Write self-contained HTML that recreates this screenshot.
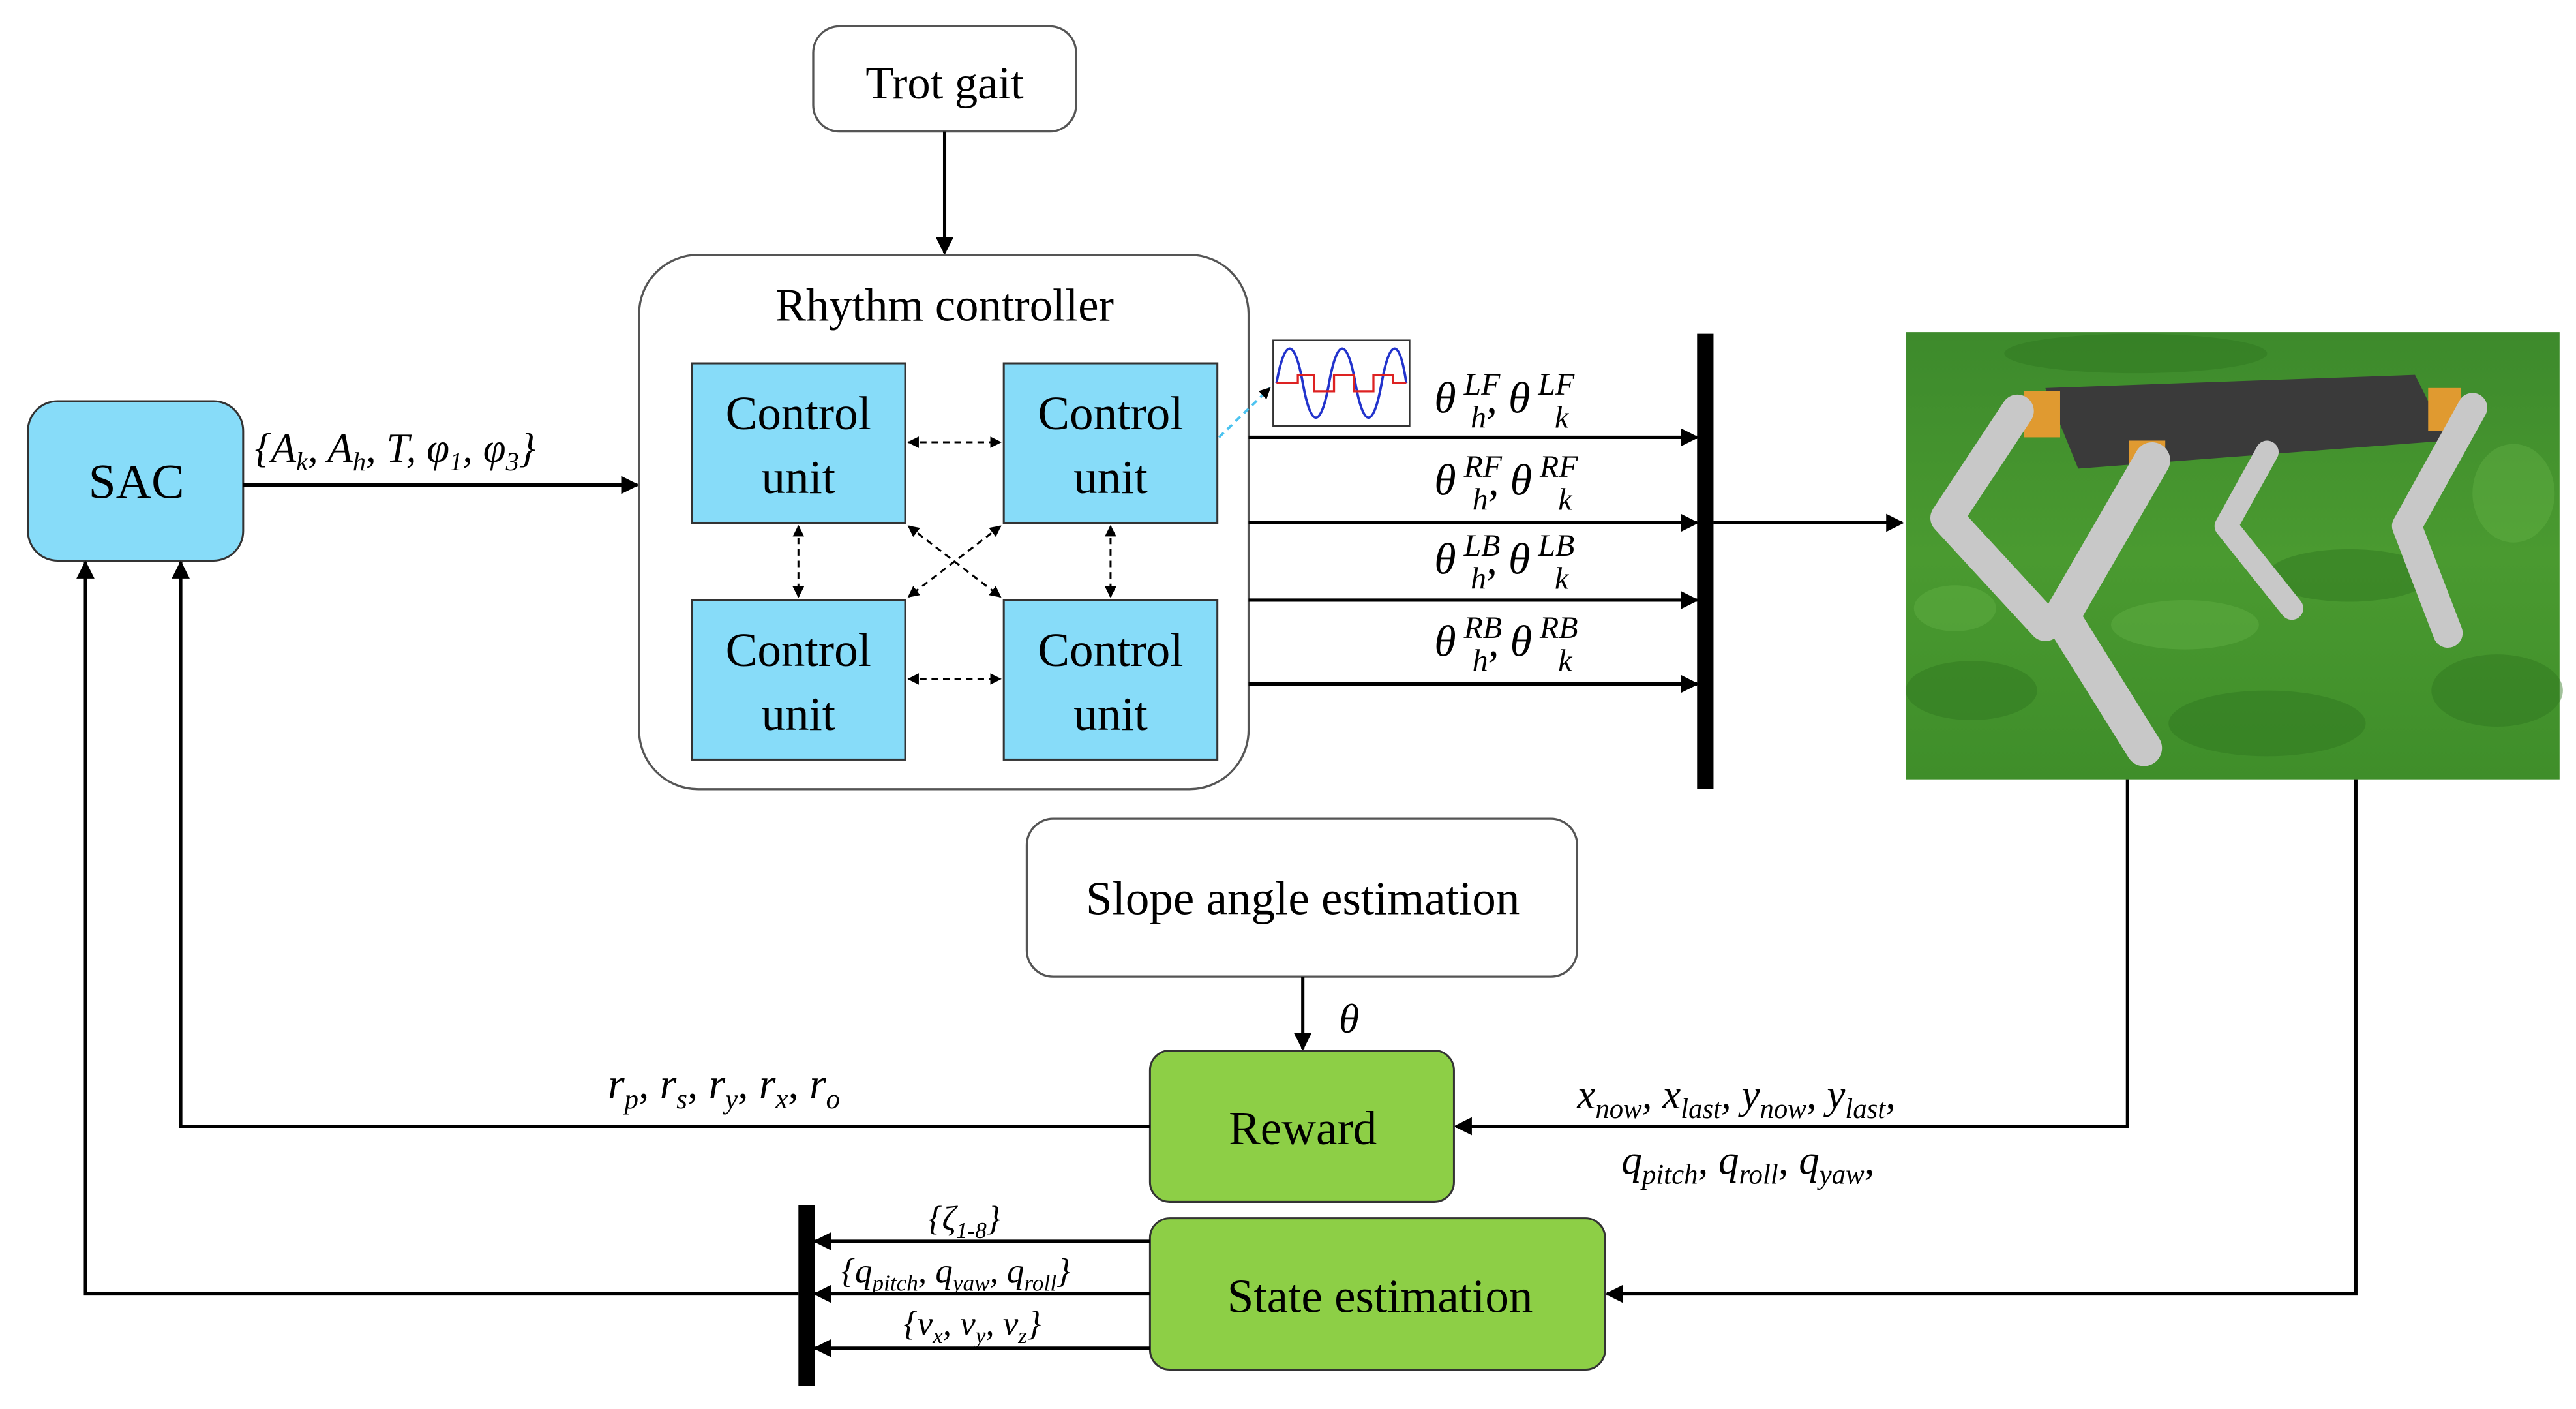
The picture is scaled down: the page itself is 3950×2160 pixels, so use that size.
<!DOCTYPE html>
<html><head><meta charset="utf-8"><style>
html,body{margin:0;padding:0;background:#fff;}
svg{display:block;}
text{font-family:"Liberation Serif",serif;fill:#000;}
.it{font-style:italic;}
</style></head><body>
<svg width="3950" height="2160" viewBox="0 0 1568 857" preserveAspectRatio="none" xmlns="http://www.w3.org/2000/svg">
<defs>
<marker id="a" viewBox="0 0 10 10" refX="9" refY="5" markerWidth="7" markerHeight="7" orient="auto-start-reverse" markerUnits="userSpaceOnUse"><path d="M0,0 L10,5 L0,10 z" fill="#000"/></marker>
<marker id="b" viewBox="0 0 10 10" refX="9" refY="5" markerWidth="11" markerHeight="11" orient="auto-start-reverse" markerUnits="userSpaceOnUse"><path d="M0,0 L10,5 L0,10 z" fill="#000"/></marker>
<linearGradient id="g" x1="0" y1="0" x2="0" y2="1"><stop offset="0" stop-color="#3d8a2c"/><stop offset="0.5" stop-color="#4a9a30"/><stop offset="1" stop-color="#3f8e2a"/></linearGradient>
</defs>
<!-- Trot gait -->
<rect x="495" y="16" width="160" height="64" rx="16" fill="#fff" stroke="#555" stroke-width="1.3"/>
<text x="575" y="60" font-size="28" text-anchor="middle">Trot gait</text>
<line x1="575" y1="80" x2="575" y2="154" stroke="#000" stroke-width="2" marker-end="url(#b)"/>
<!-- Rhythm controller -->
<rect x="389" y="155" width="371" height="325" rx="36" fill="#fff" stroke="#555" stroke-width="1.3"/>
<text x="575" y="195" font-size="28" text-anchor="middle">Rhythm controller</text>
<g fill="#87dcf9" stroke="#333" stroke-width="1.2">
<rect x="421" y="221" width="130" height="97"/><rect x="611" y="221" width="130" height="97"/>
<rect x="421" y="365" width="130" height="97"/><rect x="611" y="365" width="130" height="97"/>
</g>
<g font-size="29" text-anchor="middle">
<text x="486" y="261">Control</text><text x="486" y="300">unit</text>
<text x="676" y="261">Control</text><text x="676" y="300">unit</text>
<text x="486" y="405">Control</text><text x="486" y="444">unit</text>
<text x="676" y="405">Control</text><text x="676" y="444">unit</text>
</g>
<g stroke="#000" stroke-width="1.2" stroke-dasharray="4,3" marker-end="url(#a)" marker-start="url(#a)">
<line x1="553" y1="269" x2="609" y2="269"/><line x1="553" y1="413" x2="609" y2="413"/>
<line x1="486" y1="320" x2="486" y2="363"/><line x1="676" y1="320" x2="676" y2="363"/>
<line x1="553" y1="320" x2="609" y2="363"/><line x1="609" y1="320" x2="553" y2="363"/>
</g>
<line x1="742" y1="266" x2="773" y2="236" stroke="#4cc3f0" stroke-width="1.5" stroke-dasharray="4,3" marker-end="url(#a)"/>
<!-- sine plot -->
<rect x="775" y="207" width="83" height="52" fill="#fff" stroke="#333" stroke-width="1"/>
<path d="M777,233 C782,205 788,205 793,233 S804,261 809,233 S820,205 825,233 S836,261 841,233 S852,205 856,233" fill="none" stroke="#2233cc" stroke-width="1.5"/>
<path d="M777,233 L790,233 L790,228 L800,228 L800,238 L812,238 L812,228 L824,228 L824,238 L836,238 L836,228 L848,228 L848,233 L856,233" fill="none" stroke="#dd2222" stroke-width="1.3"/>
<!-- SAC -->
<rect x="17" y="244" width="131" height="97" rx="18" fill="#87dcf9" stroke="#333" stroke-width="1.2"/>
<text x="83" y="303" font-size="30" text-anchor="middle">SAC</text>
<line x1="148" y1="295" x2="388" y2="295" stroke="#000" stroke-width="2" marker-end="url(#b)"/>
<text x="155" y="281" font-size="25" class="it">{A<tspan font-size="16" dy="5">k</tspan><tspan dy="-5">, A</tspan><tspan font-size="16" dy="5">h</tspan><tspan dy="-5">, T, φ</tspan><tspan font-size="16" dy="5">1</tspan><tspan dy="-5">, φ</tspan><tspan font-size="16" dy="5">3</tspan><tspan dy="-5">}</tspan></text>
<!-- theta outputs -->
<g stroke="#000" stroke-width="2" marker-end="url(#b)">
<line x1="760" y1="266" x2="1033" y2="266"/><line x1="760" y1="318" x2="1033" y2="318"/>
<line x1="760" y1="365" x2="1033" y2="365"/><line x1="760" y1="416" x2="1033" y2="416"/>
</g>
<g font-size="27" class="it">
<text x="873" y="251">θ<tspan font-size="19" dy="-11"> LF</tspan><tspan font-size="19" dy="20" dx="-18">h</tspan><tspan dy="-9">,  θ</tspan><tspan font-size="19" dy="-11"> LF</tspan><tspan font-size="19" dy="20" dx="-12">k</tspan></text>
<text x="873" y="301">θ<tspan font-size="19" dy="-11"> RF</tspan><tspan font-size="19" dy="20" dx="-18">h</tspan><tspan dy="-9">,  θ</tspan><tspan font-size="19" dy="-11"> RF</tspan><tspan font-size="19" dy="20" dx="-12">k</tspan></text>
<text x="873" y="349">θ<tspan font-size="19" dy="-11"> LB</tspan><tspan font-size="19" dy="20" dx="-18">h</tspan><tspan dy="-9">,  θ</tspan><tspan font-size="19" dy="-11"> LB</tspan><tspan font-size="19" dy="20" dx="-12">k</tspan></text>
<text x="873" y="399">θ<tspan font-size="19" dy="-11"> RB</tspan><tspan font-size="19" dy="20" dx="-18">h</tspan><tspan dy="-9">,  θ</tspan><tspan font-size="19" dy="-11"> RB</tspan><tspan font-size="19" dy="20" dx="-12">k</tspan></text>
</g>
<rect x="1033" y="203" width="10" height="277" fill="#000"/>
<line x1="1043" y1="318" x2="1158" y2="318" stroke="#000" stroke-width="2" marker-end="url(#b)"/>
<!-- robot image -->
<rect x="1160" y="202" width="398" height="272" fill="url(#g)"/>
<g fill="#2f7620" opacity="0.45">
<ellipse cx="1200" cy="420" rx="40" ry="18"/><ellipse cx="1380" cy="440" rx="60" ry="20"/><ellipse cx="1520" cy="420" rx="40" ry="22"/>
<ellipse cx="1430" cy="350" rx="50" ry="16"/><ellipse cx="1300" cy="215" rx="80" ry="12"/>
</g>
<g fill="#6bb84a" opacity="0.35">
<ellipse cx="1330" cy="380" rx="45" ry="15"/><ellipse cx="1530" cy="300" rx="25" ry="30"/><ellipse cx="1190" cy="370" rx="25" ry="14"/>
</g>
<path d="M1245,236 L1470,228 L1490,268 L1265,285 Z" fill="#3a3a3a"/>
<rect x="1232" y="238" width="22" height="28" fill="#e09a30"/>
<rect x="1478" y="236" width="20" height="26" fill="#e09a30"/>
<rect x="1296" y="268" width="22" height="20" fill="#e09a30"/>
<g stroke="#c8c8c8" stroke-linecap="round" stroke-linejoin="round" fill="none">
<path d="M1228,250 L1185,315 L1245,380" stroke-width="20"/>
<path d="M1310,280 L1255,375 L1305,455" stroke-width="22"/>
<path d="M1505,248 L1465,320 L1490,385" stroke-width="18"/>
<path d="M1380,275 L1355,320 L1395,370" stroke-width="14"/>
</g>
<!-- robot feedback lines -->
<polyline points="1295,474 1295,685 886,685" fill="none" stroke="#000" stroke-width="2" marker-end="url(#b)"/>
<polyline points="1434,474 1434,787 978,787" fill="none" stroke="#000" stroke-width="2" marker-end="url(#b)"/>
<!-- Slope -->
<rect x="625" y="498" width="335" height="96" rx="16" fill="#fff" stroke="#555" stroke-width="1.3"/>
<text x="793" y="556" font-size="29" text-anchor="middle">Slope angle estimation</text>
<line x1="793" y1="594" x2="793" y2="638" stroke="#000" stroke-width="2" marker-end="url(#b)"/>
<text x="815" y="628" font-size="25" class="it">θ</text>
<!-- Reward -->
<rect x="700" y="639" width="185" height="92" rx="12" fill="#8dcf46" stroke="#333" stroke-width="1.2"/>
<text x="793" y="696" font-size="29" text-anchor="middle">Reward</text>
<polyline points="700,685 110,685 110,342" fill="none" stroke="#000" stroke-width="2" marker-end="url(#b)"/>
<text x="370" y="668" font-size="26" class="it">r<tspan font-size="17" dy="6">p</tspan><tspan dy="-6">, r</tspan><tspan font-size="17" dy="6">s</tspan><tspan dy="-6">, r</tspan><tspan font-size="17" dy="6">y</tspan><tspan dy="-6">, r</tspan><tspan font-size="17" dy="6">x</tspan><tspan dy="-6">, r</tspan><tspan font-size="17" dy="6">o</tspan></text>
<text x="960" y="674" font-size="25" class="it">x<tspan font-size="17" dy="6">now</tspan><tspan dy="-6">, x</tspan><tspan font-size="17" dy="6">last</tspan><tspan dy="-6">, y</tspan><tspan font-size="17" dy="6">now</tspan><tspan dy="-6">, y</tspan><tspan font-size="17" dy="6">last</tspan><tspan dy="-6">,</tspan></text>
<text x="987" y="714" font-size="25" class="it">q<tspan font-size="17" dy="6">pitch</tspan><tspan dy="-6">, q</tspan><tspan font-size="17" dy="6">roll</tspan><tspan dy="-6">, q</tspan><tspan font-size="17" dy="6">yaw</tspan><tspan dy="-6">,</tspan></text>
<!-- State estimation -->
<rect x="700" y="741" width="277" height="92" rx="12" fill="#8dcf46" stroke="#333" stroke-width="1.2"/>
<text x="840" y="798" font-size="29" text-anchor="middle">State estimation</text>
<g stroke="#000" stroke-width="2" marker-end="url(#b)">
<line x1="700" y1="755" x2="496" y2="755"/><line x1="700" y1="787" x2="496" y2="787"/><line x1="700" y1="820" x2="496" y2="820"/>
</g>
<g font-size="21" class="it">
<text x="565" y="748">{ζ<tspan font-size="14" dy="5">1-8</tspan><tspan dy="-5">}</tspan></text>
<text x="512" y="780">{q<tspan font-size="14" dy="5">pitch</tspan><tspan dy="-5">, q</tspan><tspan font-size="14" dy="5">yaw</tspan><tspan dy="-5">, q</tspan><tspan font-size="14" dy="5">roll</tspan><tspan dy="-5">}</tspan></text>
<text x="550" y="812">{v<tspan font-size="14" dy="5">x</tspan><tspan dy="-5">, v</tspan><tspan font-size="14" dy="5">y</tspan><tspan dy="-5">, v</tspan><tspan font-size="14" dy="5">z</tspan><tspan dy="-5">}</tspan></text>
</g>
<rect x="486" y="733" width="10" height="110" fill="#000"/>
<polyline points="486,787 52,787 52,342" fill="none" stroke="#000" stroke-width="2" marker-end="url(#b)"/>
</svg>
</body></html>
